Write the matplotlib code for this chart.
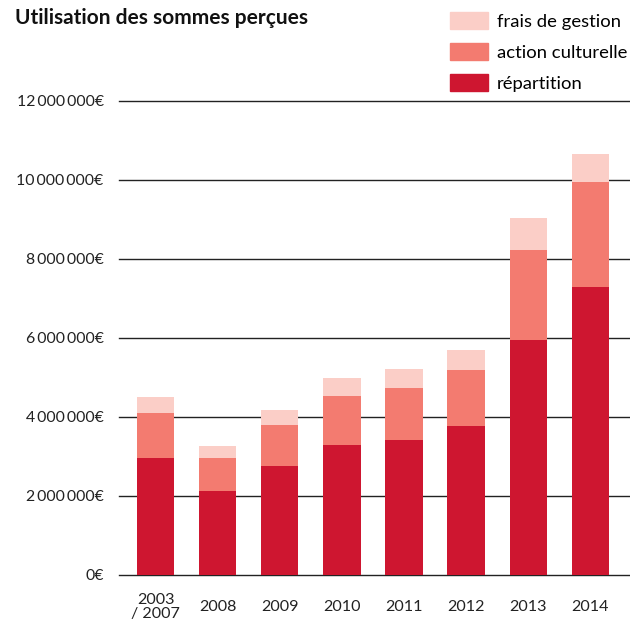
import matplotlib
matplotlib.use("Agg")
import matplotlib.pyplot as plt
import numpy as np
from matplotlib.patches import Patch

categories = ["2003\n/ 2007", "2008", "2009", "2010", "2011", "2012", "2013", "2014"]
repartition = [2.96e6, 2.13e6, 2.76e6, 3.30e6, 3.43e6, 3.76e6, 5.95e6, 7.28e6]
action_culturelle = [1.14e6, 0.83e6, 1.04e6, 1.235e6, 1.31e6, 1.43e6, 2.28e6, 2.68e6]
frais_gestion = [0.41e6, 0.31e6, 0.38e6, 0.455e6, 0.48e6, 0.51e6, 0.81e6, 0.71e6]
yticks = [0, 2e6, 4e6, 6e6, 8e6, 10e6, 12e6]
series_names = ["frais de gestion", "action culturelle", "répartition"]
colors = {"frais de gestion": "#FBCEC7", "action culturelle": "#F37B70", "répartition": "#CE1630"}

plt.rcParams['font.family'] = ['Lato', 'DejaVu Sans']

fig = plt.figure(figsize=(6.3, 6.2), dpi=100)
ax = fig.add_axes([119/630, 1 - 575/620, 1 - 119/630, (575 - 101)/620])

x = np.arange(len(categories))
w = 0.6
rep = np.array(repartition)
act = np.array(action_culturelle)
fr = np.array(frais_gestion)
ax.bar(x, rep, w, color=colors["répartition"], zorder=3)
ax.bar(x, act, w, bottom=rep, color=colors["action culturelle"], zorder=3)
ax.bar(x, fr, w, bottom=rep + act, color=colors["frais de gestion"], zorder=3)

ax.set_xlim(-0.59, 7.64)
ax.set_ylim(0, 12e6)
for y in yticks:
    ax.axhline(y, color="#222222", lw=1.0, zorder=1, clip_on=False)

def fmt(v):
    s = f"{int(v):,}".replace(",", "\u2009")
    return s + "€"

ax.set_yticks(yticks)
ax.set_yticklabels([fmt(v) for v in yticks], fontsize=11.4, color="#222222")
ax.tick_params(axis="y", length=0, pad=11)
ax.set_xticks(x)
ax.set_xticklabels(categories, fontsize=11.6, color="#222222", va="center", linespacing=1.05)
ax.tick_params(axis="x", length=0, pad=23)
for s in ax.spines.values():
    s.set_visible(False)

fig.text(15/630, 1 - 18/620, "Utilisation des sommes perçues", fontsize=15,
         fontweight="bold", ha="left", va="center", color="#111111")

handles = [Patch(color=colors[n]) for n in series_names]
fig.legend(handles, series_names, loc="upper left", bbox_to_anchor=(450/630, 1 - 12/620),
           frameon=False, fontsize=13.3, handlelength=2.05, handleheight=1.05,
           handletextpad=0.48, labelspacing=0.72, borderaxespad=0, borderpad=0)

fig.savefig("out.png", dpi=100)
